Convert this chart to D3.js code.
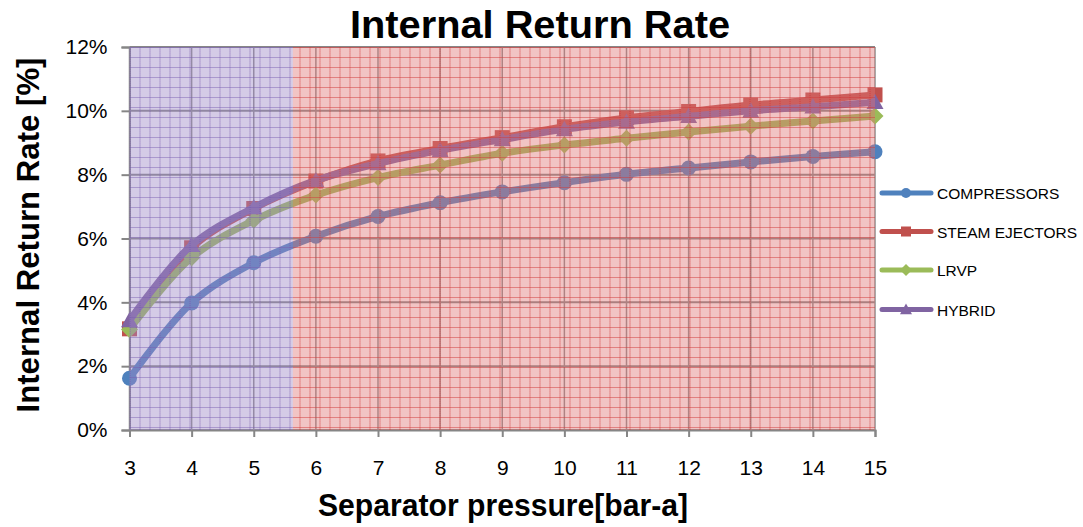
<!DOCTYPE html>
<html>
<head>
<meta charset="utf-8">
<script src="https://cdn.jsdelivr.net/npm/d3@7/dist/d3.min.js"></script>
<style>
  html, body { margin: 0; padding: 0; background: #ffffff; }
  svg { display: block; }
  text { font-family: "Liberation Sans", Arial, sans-serif; fill: #000; }
</style>
</head>
<body>
<svg id="chart" width="1083" height="527"></svg>
<script>
// Separator pressure [bar-a]
const pressures = [3, 4, 5, 6, 7, 8, 9, 10, 11, 12, 13, 14, 15];

// Internal return rate [%] per vacuum system
const compressors   = [1.62, 3.98, 5.24, 6.07, 6.69, 7.12, 7.46, 7.75, 8.01, 8.21, 8.40, 8.57, 8.72];
const steamEjectors = [3.17, 5.71, 6.94, 7.80, 8.43, 8.82, 9.16, 9.50, 9.78, 9.98, 10.18, 10.34, 10.50];
const lrvp          = [3.15, 5.40, 6.57, 7.36, 7.91, 8.30, 8.67, 8.93, 9.14, 9.34, 9.52, 9.68, 9.84];
const hybrid        = [3.43, 5.79, 6.97, 7.82, 8.35, 8.76, 9.10, 9.42, 9.65, 9.83, 10.00, 10.13, 10.27];

const seriesNames = ["COMPRESSORS", "STEAM EJECTORS", "LRVP", "HYBRID"];
const seriesValues = [compressors, steamEjectors, lrvp, hybrid];

const yTicks = [0, 2, 4, 6, 8, 10, 12];
const xTicks = pressures;

// Shaded pressure ranges: [from, to]
const regionBounds = [[3, 5.63], [5.63, 15]];

const colors = ["#4F81BD", "#C0504D", "#9BBB59", "#8064A2"];
const markerTypes = ["circle", "square", "diamond", "triangle"];

const svg = d3.select("#chart");
const plotLeft = 129.5, plotRight = 875, plotTop = 47, plotBottom = 430;

const x = d3.scaleLinear().domain([3, 15]).range([plotLeft, plotRight]);
const y = d3.scaleLinear().domain([0, 12]).range([plotBottom, plotTop]);

// --- hatch patterns for the shaded ranges ---
const defs = svg.append("defs");
function makePattern(id, rgb, baseA, lineA, dotA) {
  const p = defs.append("pattern")
    .attr("id", id)
    .attr("patternUnits", "userSpaceOnUse")
    .attr("x", plotLeft).attr("y", plotTop)
    .attr("width", 10).attr("height", 10);
  p.append("rect").attr("width", 10).attr("height", 10)
    .attr("fill", rgb).attr("fill-opacity", baseA);
  for (let i = 0; i < 10; i++) {
    for (let j = 0; j < 10; j++) {
      if ((i + j) % 2 === 0) {
        p.append("rect").attr("x", i).attr("y", j).attr("width", 1).attr("height", 1)
          .attr("fill", "#ffffff").attr("fill-opacity", dotA);
      }
    }
  }
  p.append("rect").attr("x", 0).attr("y", 0).attr("width", 10).attr("height", 1)
    .attr("fill", rgb).attr("fill-opacity", lineA);
  p.append("rect").attr("x", 0).attr("y", 0).attr("width", 1).attr("height", 10)
    .attr("fill", rgb).attr("fill-opacity", lineA);
}
makePattern("hatchPurple", "rgb(120,90,175)", 0.36, 0.45, 0.25);
makePattern("hatchRed", "rgb(210,60,60)", 0.34, 0.5, 0.25);

// --- gridlines ---
const grid = svg.append("g");
grid.selectAll("line.h").data(yTicks).join("line")
  .attr("x1", plotLeft).attr("x2", plotRight)
  .attr("y1", d => y(d)).attr("y2", d => y(d))
  .attr("stroke", "#868686").attr("stroke-width", 2);
grid.selectAll("line.v").data(xTicks).join("line")
  .attr("x1", d => x(d)).attr("x2", d => x(d))
  .attr("y1", plotTop).attr("y2", plotBottom)
  .attr("stroke", "#8c8c8c").attr("stroke-width", 1.5);

// --- axes ---
const yAxis = d3.axisLeft(y).tickValues(yTicks).tickSize(8).tickPadding(14)
  .tickFormat(d => d + "%");
const gy = svg.append("g").attr("transform", `translate(${plotLeft},0)`).call(yAxis);
gy.select(".domain").attr("stroke", "#868686").attr("stroke-width", 2);
gy.selectAll(".tick line").attr("stroke", "#868686").attr("stroke-width", 2);
gy.selectAll(".tick text").style("font-size", "21px")
  .style("font-family", "Liberation Sans, Arial, sans-serif").attr("fill", "#000");

const xAxis = d3.axisBottom(x).tickValues(xTicks).tickSize(7).tickPadding(23)
  .tickFormat(d3.format("d"));
const gx = svg.append("g").attr("transform", `translate(0,${plotBottom})`).call(xAxis);
gx.select(".domain").attr("stroke", "#868686").attr("stroke-width", 2);
gx.selectAll(".tick line").attr("stroke", "#868686").attr("stroke-width", 2);
gx.selectAll(".tick text").style("font-size", "21px")
  .style("font-family", "Liberation Sans, Arial, sans-serif").attr("fill", "#000");

// --- markers ---
function drawMarker(g, type, cx, cy, size, color) {
  if (type === "circle") {
    g.append("circle").attr("cx", cx).attr("cy", cy).attr("r", size / 2).attr("fill", color);
  } else if (type === "square") {
    g.append("rect").attr("x", cx - size / 2).attr("y", cy - size / 2)
      .attr("width", size).attr("height", size).attr("fill", color);
  } else if (type === "diamond") {
    const s = size / 2 + 1;
    g.append("path").attr("d", `M${cx},${cy - s}L${cx + s},${cy}L${cx},${cy + s}L${cx - s},${cy}Z`)
      .attr("fill", color);
  } else {
    const s = size / 2 + 1;
    g.append("path").attr("d", `M${cx},${cy - s}L${cx + s},${cy + s * 0.8}L${cx - s},${cy + s * 0.8}Z`)
      .attr("fill", color);
  }
}

// --- series ---
const line = d3.line()
  .x((d, i) => x(pressures[i]))
  .y(d => y(d))
  .curve(d3.curveCatmullRom.alpha(0.5));

const seriesG = svg.append("g");
seriesValues.forEach((vals, k) => {
  const g = seriesG.append("g");
  g.append("path").datum(vals)
    .attr("d", line)
    .attr("fill", "none")
    .attr("stroke", colors[k])
    .attr("stroke-width", 7)
    .attr("stroke-linejoin", "round")
    .attr("stroke-linecap", "round");
  vals.forEach((v, i) => drawMarker(g, markerTypes[k], x(pressures[i]), y(v), 15, colors[k]));
});

// --- shaded pressure ranges, laid over the plot ---
const fills = ["url(#hatchPurple)", "url(#hatchRed)"];
svg.append("g").selectAll("rect").data(regionBounds).join("rect")
  .attr("x", d => x(d[0]))
  .attr("y", plotTop)
  .attr("width", d => x(d[1]) - x(d[0]))
  .attr("height", plotBottom - plotTop)
  .attr("fill", (d, i) => fills[i]);

// --- titles ---
svg.append("text")
  .attr("x", 540).attr("y", 38)
  .attr("text-anchor", "middle")
  .attr("textLength", 380).attr("lengthAdjust", "spacingAndGlyphs")
  .style("font-size", "39px").style("font-weight", "bold")
  .text("Internal Return Rate");

svg.append("text")
  .attr("transform", "translate(39,235) rotate(-90)")
  .attr("text-anchor", "middle")
  .attr("textLength", 355).attr("lengthAdjust", "spacingAndGlyphs")
  .style("font-size", "31px").style("font-weight", "bold")
  .text("Internal Return Rate [%]");

svg.append("text")
  .attr("x", 503).attr("y", 516)
  .attr("text-anchor", "middle")
  .attr("textLength", 370).attr("lengthAdjust", "spacingAndGlyphs")
  .style("font-size", "32px").style("font-weight", "bold")
  .text("Separator pressure[bar-a]");

// --- legend ---
const legendRows = [193, 231.5, 270, 309.5];
const legend = svg.append("g");
seriesNames.forEach((name, k) => {
  const ly = legendRows[k];
  const g = legend.append("g");
  g.append("line").attr("x1", 882).attr("x2", 931).attr("y1", ly).attr("y2", ly)
    .attr("stroke", colors[k]).attr("stroke-width", 5).attr("stroke-linecap", "round");
  drawMarker(g, markerTypes[k], 906, ly, 10, colors[k]);
  g.append("text").attr("x", 937).attr("y", ly + 6)
    .style("font-size", "15.5px").text(name);
});
</script>
</body>
</html>
